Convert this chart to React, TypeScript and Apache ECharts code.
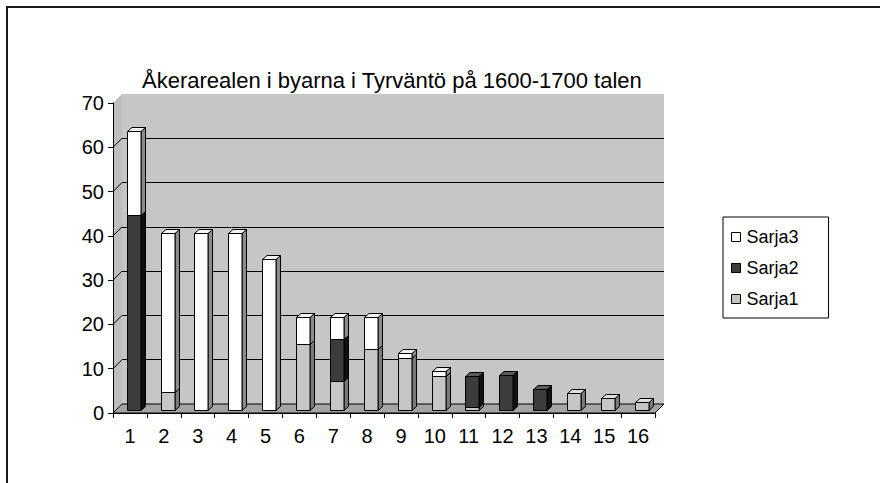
import React, { useEffect, useRef } from "react";
import * as echarts from "echarts";

const categories = ["1", "2", "3", "4", "5", "6", "7", "8", "9", "10", "11", "12", "13", "14", "15", "16"];
const seriesNames = ["Sarja1", "Sarja2", "Sarja3"];
const sarja1 = [0, 4, 0, 0, 0, 15, 6.5, 13.7, 11.7, 7.7, 0.7, 0, 0, 3.8, 2.6, 1.8];
const sarja2 = [44, 0, 0, 0, 0, 0, 9.5, 0, 0, 0, 7, 7.8, 4.8, 0, 0, 0];
const sarja3 = [19, 36, 40, 40, 34, 6, 5, 7.3, 1.1, 1.2, 0, 0, 0, 0, 0, 0];
const yTicks = [0, 10, 20, 30, 40, 50, 60, 70];
const titleText = "Åkerarealen i byarna i Tyrväntö på 1600-1700 talen";

const FONT = "'Liberation Sans', Arial, sans-serif";
const D = 9; // wall depth
const BAR_DX = 3.5;
const BAR_DY = 3;
const SIDE_DX = 4.5;
const SIDE_DY = 4;

const frontColors = ["#c6c6c6", "#3c3c3c", "#ffffff"];
const sideColors = ["#7a7a7a", "#111111", "#8c8c8c"];
const topColors = ["#dedede", "#5a5a5a", "#f4f4f4"];

export default function App() {
  const ref = useRef<HTMLDivElement>(null);

  useEffect(() => {
    document.body.style.margin = "0";
    if (!ref.current) return;
    const chart = echarts.init(ref.current, undefined, { renderer: "svg" });

    const all = [sarja1, sarja2, sarja3];
    const stackedData = all.map((arr, si) =>
      arr.map((v, i) => {
        let lo = 0;
        for (let k = 0; k < si; k++) lo += all[k][i];
        return [i, lo, lo + v];
      })
    );

    const yMin = yTicks[0];
    const yMax = yTicks[yTicks.length - 1];

    const wallSeries = {
      type: "custom",
      name: "walls",
      xAxisIndex: 0,
      yAxisIndex: 0,
      z: 1,
      silent: true,
      data: [[0, 0]],
      renderItem: (params: any, api: any) => {
        const band = api.size([1, 0])[0];
        const pA = api.coord([0, yMin]);
        const pB = api.coord([categories.length - 1, yMin]);
        const x0 = pA[0] - band / 2;
        const x1 = pB[0] + band / 2;
        const y0 = pA[1];
        const yT = api.coord([0, yMax])[1];
        const children: any[] = [
          {
            type: "polygon",
            shape: { points: [[x0, y0], [x0, yT], [x0 + D, yT - D], [x0 + D, y0 - D]] },
            style: { fill: "#bdbdbd", stroke: null },
          },
          {
            type: "polygon",
            shape: { points: [[x0, y0], [x1, y0], [x1 + D, y0 - D], [x0 + D, y0 - D]] },
            style: { fill: "#a4a4a4", stroke: "#000", lineWidth: 1 },
          },
        ];
        yTicks.slice(1, yTicks.length - 1).forEach((v) => {
          const y = api.coord([0, v])[1];
          children.push({
            type: "line",
            shape: { x1: x0, y1: y, x2: x0 + D, y2: y - D },
            style: { stroke: "#000", lineWidth: 1 },
          });
        });
        return { type: "group", children };
      },
    };

    const barSeries = stackedData.map((data, si) => ({
      type: "custom",
      name: seriesNames[si],
      xAxisIndex: 0,
      yAxisIndex: 0,
      z: 3 + si,
      itemStyle: { color: frontColors[si], borderColor: "#000", borderWidth: 1 },
      encode: { x: 0, y: [1, 2] },
      data,
      renderItem: (params: any, api: any) => {
        const x = api.value(0);
        const lo = api.value(1);
        const hi = api.value(2);
        if (hi - lo <= 0) return null;
        const band = api.size([1, 0])[0];
        const w = band * 0.4;
        const pLo = api.coord([x, lo]);
        const pHi = api.coord([x, hi]);
        const fx0 = Math.round(pLo[0] - w / 2 + BAR_DX) + 0.5;
        const fx1 = Math.round(fx0 + w);
        const yb = Math.round(pLo[1] - BAR_DY) + 0.5;
        const yt = Math.round(pHi[1] - BAR_DY) + 0.5;
        const st = { stroke: "#000", lineWidth: 1 };
        return {
          type: "group",
          children: [
            {
              type: "polygon",
              shape: { points: [[fx1, yb], [fx1 + SIDE_DX, yb - SIDE_DY], [fx1 + SIDE_DX, yt - SIDE_DY], [fx1, yt]] },
              style: { ...st, fill: sideColors[si] },
            },
            {
              type: "polygon",
              shape: { points: [[fx0, yt], [fx0 + SIDE_DX, yt - SIDE_DY], [fx1 + SIDE_DX, yt - SIDE_DY], [fx1, yt]] },
              style: { ...st, fill: topColors[si] },
            },
            {
              type: "rect",
              shape: { x: fx0, y: yt, width: fx1 - fx0, height: yb - yt },
              style: { ...st, fill: frontColors[si] },
            },
          ],
        };
      },
    }));

    const option: any = {
      animation: false,
      backgroundColor: "#fff",
      title: {
        text: titleText,
        left: 142,
        top: 69,
        padding: 0,
        textStyle: { fontFamily: FONT, fontSize: 22, fontWeight: "normal", color: "#000" },
      },
      graphic: [
        {
          type: "rect",
          shape: { x: 7, y: 7, width: 1000, height: 1000 },
          style: { fill: null, stroke: "#1a1a1a", lineWidth: 2 },
          silent: true,
        },
      ],
      legend: {
        data: ["Sarja3", "Sarja2", "Sarja1"],
        orient: "vertical",
        left: 723,
        top: 217,
        padding: [10, 30, 9, 8],
        itemGap: 11,
        itemWidth: 9,
        itemHeight: 9,
        icon: "rect",
        borderColor: "#000",
        borderWidth: 1,
        backgroundColor: "#fff",
        selectedMode: false,
        itemStyle: { borderColor: "#000", borderWidth: 1 },
        textStyle: { fontFamily: FONT, fontSize: 18, lineHeight: 20, color: "#000", padding: [0, 0, 0, 1] },
      },
      grid: [
        { left: 113, right: 225, top: 103, bottom: 70, show: false },
        { left: 113 + D, right: 225 - D, top: 103 - D, bottom: 70 + D, show: true, backgroundColor: "#c6c6c6", borderWidth: 0 },
      ],
      xAxis: [
        {
          type: "category",
          gridIndex: 0,
          data: categories,
          z: 10,
          axisLine: { show: true, lineStyle: { color: "#000", width: 1 } },
          axisTick: { show: true, length: 5, lineStyle: { color: "#000" } },
          axisLabel: { fontFamily: FONT, fontSize: 20, color: "#000", margin: 13 },
        },
        { type: "category", gridIndex: 1, data: categories, show: false },
      ],
      yAxis: [
        {
          type: "value",
          gridIndex: 0,
          min: yMin,
          max: yMax,
          interval: 10,
          z: 10,
          axisLine: { show: true, lineStyle: { color: "#000", width: 1 } },
          axisTick: { show: true, length: 5, lineStyle: { color: "#000" } },
          axisLabel: { fontFamily: FONT, fontSize: 20, color: "#000", margin: 9 },
          splitLine: { show: false },
        },
        {
          type: "value",
          gridIndex: 1,
          min: yMin,
          max: yMax,
          interval: 10,
          axisLine: { show: false },
          axisTick: { show: false },
          axisLabel: { show: false },
          splitLine: {
            show: true,
            lineStyle: {
              color: ["rgba(0,0,0,0)", "#000", "#000", "#000", "#000", "#000", "#000", "rgba(0,0,0,0)"],
              width: 1,
            },
          },
        },
      ],
      series: [wallSeries, ...barSeries],
    };

    chart.setOption(option);
    return () => chart.dispose();
  }, []);

  return <div ref={ref} style={{ width: 880, height: 483 }} />;
}
